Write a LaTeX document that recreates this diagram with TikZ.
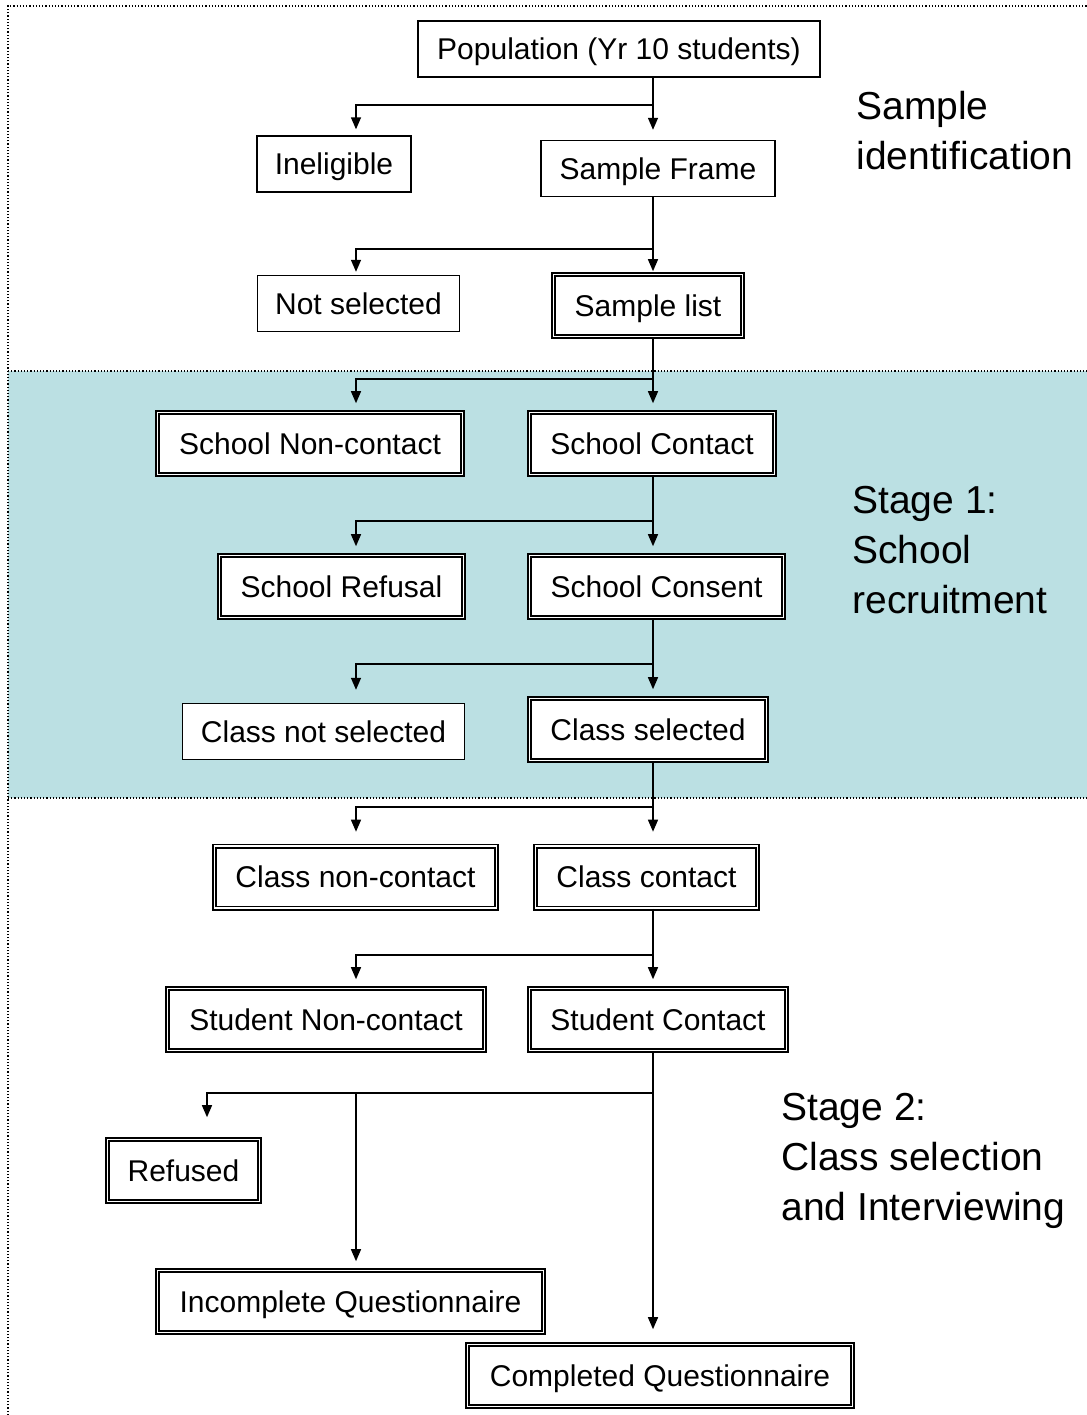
\documentclass[tikz,border=0pt]{standalone}
\usepackage{fontspec}
\setmainfont{Liberation Sans}
\usetikzlibrary{positioning, calc, arrows.meta}

\definecolor{bandteal}{RGB}{187,224,227}

\begin{document}
\begin{tikzpicture}[x=0.5pt, y=-0.5pt,
  box/.style={draw, fill=white, line width=0.7pt, inner xsep=0pt, text height=10.7pt, text depth=0pt, minimum height=28pt, font=\fontsize{15}{18}\selectfont},
  dbox/.style={draw, fill=white, double, line width=0.8pt, double distance=0.9pt, inner xsep=0pt, text height=10.7pt, text depth=0pt, minimum height=31pt, font=\fontsize{15}{18}\selectfont},
  arr/.style={line width=0.7pt, -{Triangle[length=6pt, width=5pt]}},
  lab/.style={anchor=west, align=left, inner sep=0pt, font=\fontsize{19.5}{25}\selectfont}]
  \useasboundingbox (0,0) rectangle (1087,1415);
  % background band and frame
  \fill[bandteal] (8,371) rectangle (1087,798);
  \draw[densely dotted, line width=0.6pt] (8,371) -- (1087,371);
  \draw[densely dotted, line width=0.6pt] (8,798) -- (1087,798);
  \draw[densely dotted, line width=0.6pt] (8,1415) -- (8,6) -- (1087,6);
  % boxes
  \node[box, minimum width=201pt] (n0) at (619,49) {Population (Yr 10 students)};
  \node[box, minimum width=77pt] (n1) at (334,164) {Ineligible};
  \node[box, minimum width=117pt] (n2) at (658,168.5) {Sample Frame};
  \node[box, minimum width=101pt] (n3) at (358.5,303.5) {Not selected};
  \node[dbox, minimum width=94.5pt] (n4) at (648,305.5) {Sample list};
  \node[dbox, minimum width=152.5pt] (n5) at (310,443.5) {School Non-contact};
  \node[dbox, minimum width=122.5pt] (n6) at (652,443.5) {School Contact};
  \node[dbox, minimum width=122pt] (n7) at (341.5,586.5) {School Refusal};
  \node[dbox, minimum width=127pt] (n8) at (656.5,586.5) {School Consent};
  \node[box, minimum width=141pt] (n9) at (323.5,731.5) {Class not selected};
  \node[dbox, minimum width=118.5pt] (n10) at (648,729.5) {Class selected};
  \node[dbox, minimum width=141pt] (n11) at (355.5,877) {Class non-contact};
  \node[dbox, minimum width=111pt] (n12) at (646.5,877) {Class contact};
  \node[dbox, minimum width=158.5pt] (n13) at (326,1019.5) {Student Non-contact};
  \node[dbox, minimum width=128.5pt] (n14) at (658,1019.5) {Student Contact};
  \node[dbox, minimum width=76pt] (n15) at (183.5,1170.5) {Refused};
  \node[dbox, minimum width=193pt] (n16) at (350.5,1301.5) {Incomplete Questionnaire};
  \node[dbox, minimum width=192.5pt] (n17) at (660,1375.5) {Completed Questionnaire};
  % stage labels
  \node[lab] (t0) at (856,131) {Sample\\identification};
  \node[lab] (t1) at (852,550) {Stage 1:\\School\\recruitment};
  \node[lab] (t2) at (781,1161) {Stage 2:\\Class selection\\and Interviewing};
  % guide columns and junctions
  \coordinate (M) at (653,0);
  \coordinate (L) at (356,0);
  \coordinate (R) at (207,0);
  \coordinate (j0) at (653,105);
  \coordinate (j1) at (653,249);
  \coordinate (j2) at (653,379);
  \coordinate (j3) at (653,521);
  \coordinate (j4) at (653,664);
  \coordinate (j5) at (653,807);
  \coordinate (j6) at (653,955);
  \coordinate (j7) at (653,1093);
  % connectors
  \draw[arr, shorten >=5pt] (n0.south -| M) -- (n2.north -| M);
  \draw[arr, shorten >=3pt] (j0) -| (n1.north -| L);
  \draw[arr, shorten >=1.25pt] (n2.south -| M) -- (n4.north -| M);
  \draw[arr, shorten >=1.5pt] (j1) -| (n3.north -| L);
  \draw[arr, shorten >=4.25pt] (n4.south -| M) -- (n6.north -| M);
  \draw[arr, shorten >=4.25pt] (j2) -| (n5.north -| L);
  \draw[arr, shorten >=4.25pt] (n6.south -| M) -- (n8.north -| M);
  \draw[arr, shorten >=4.25pt] (j3) -| (n7.north -| L);
  \draw[arr, shorten >=4.25pt] (n8.south -| M) -- (n10.north -| M);
  \draw[arr, shorten >=6.5pt] (j4) -| (n9.north -| L);
  \draw[arr, shorten >=6.75pt] (n10.south -| M) -- (n12.north -| M);
  \draw[arr, shorten >=6.75pt] (j5) -| (n11.north -| L);
  \draw[arr, shorten >=4.25pt] (n12.south -| M) -- (n14.north -| M);
  \draw[arr, shorten >=4.25pt] (j6) -| (n13.north -| L);
  \draw[arr, shorten >=7.25pt] (n14.south -| M) -- (n17.north -| M);
  \draw[arr, shorten >=10.75pt] (j7) -| (n15.north -| R);
  \draw[arr, shorten >=4.25pt] (j7 -| L) -- (n16.north -| L);
\end{tikzpicture}
\end{document}
